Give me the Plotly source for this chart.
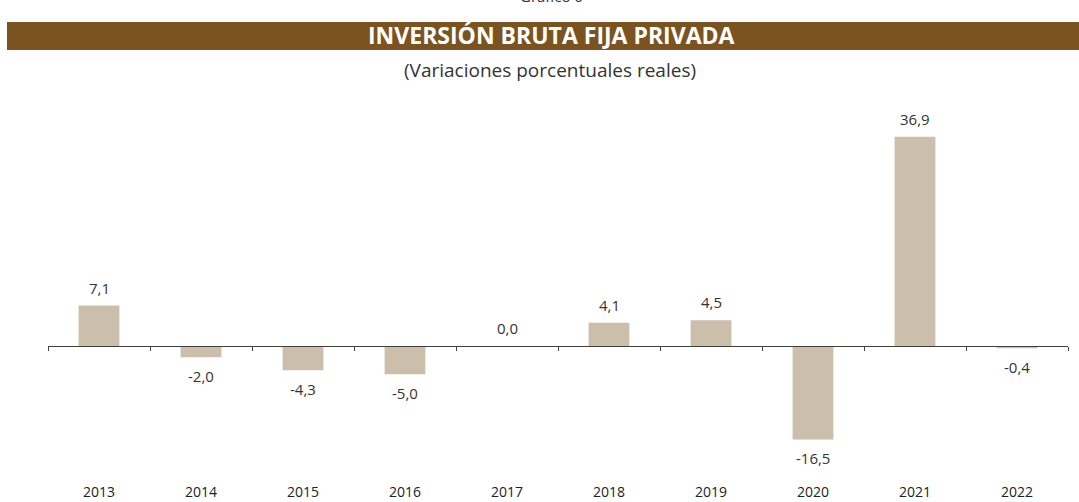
import plotly.graph_objects as go

years = ["2013", "2014", "2015", "2016", "2017", "2018", "2019", "2020", "2021", "2022"]
values = [7.1, -2.0, -4.3, -5.0, 0.0, 4.1, 4.5, -16.5, 36.9, -0.4]
labels = [f"{v:.1f}".replace(".", ",") for v in values]

YMIN, YMAX = -23.3, 41.6
zero_pos = (0 - YMIN) / (YMAX - YMIN)

fig = go.Figure()
fig.add_trace(go.Bar(
    x=years, y=values,
    marker=dict(color="#CBBEAA", line=dict(width=0)),
    width=0.4, xaxis="x2", yaxis="y", hoverinfo="skip",
))
fig.add_trace(go.Bar(
    x=years, y=[None] * len(years), xaxis="x", yaxis="y", showlegend=False, hoverinfo="skip",
))

# category axes place annotations by category index
annotations = [
    dict(x=i, y=v, xref="x2", yref="y", text=lab, showarrow=False,
         yanchor="middle", yshift=(18 if v >= 0 else -19),
         font=dict(family="Open Sans", size=15, color="#333333"))
    for i, (v, lab) in enumerate(zip(values, labels))
]
annotations += [
    dict(text="Gráfico 6", xref="paper", yref="paper", x=0.494, y=1.31,
         yanchor="middle", showarrow=False,
         font=dict(family="Open Sans", size=15, color="#333333")),
    dict(text="<b>INVERSIÓN BRUTA FIJA PRIVADA</b>", xref="paper", yref="paper",
         x=0.494, y=1.203, yanchor="middle", showarrow=False,
         font=dict(family="Open Sans", size=23, color="white")),
    dict(text="(Variaciones porcentuales reales)", xref="paper", yref="paper",
         x=0.492, y=1.1087, yanchor="middle", showarrow=False,
         font=dict(family="Open Sans", size=19, color="#333333")),
]

fig.update_layout(
    width=1079, height=502,
    margin=dict(l=48, r=11, t=110, b=24, autoexpand=False),
    paper_bgcolor="white", plot_bgcolor="white",
    showlegend=False,
    font=dict(family="Open Sans", color="#333333"),
    xaxis=dict(
        type="category", categoryorder="array", categoryarray=years,
        range=[-0.5, 9.5], anchor="free", position=zero_pos, automargin=False,
        overlaying="x2",
        showline=True, linecolor="#404040", linewidth=1,
        ticks="outside", tickson="boundaries", ticklen=4, tickcolor="#404040",
        showticklabels=False, showgrid=False, zeroline=False,
    ),
    xaxis2=dict(
        type="category", categoryorder="array", categoryarray=years,
        range=[-0.5, 9.5], side="bottom", anchor="y", automargin=False,
        showline=False, ticks="", showgrid=False, zeroline=False,
        ticklabelstandoff=4,
        tickfont=dict(family="Open Sans", size=14, color="#222222"),
    ),
    yaxis=dict(range=[YMIN, YMAX], visible=False, showgrid=False, zeroline=False,
               automargin=False, anchor="x2"),
    shapes=[dict(
        type="rect", xref="paper", yref="paper",
        x0=-0.0402, x1=1.02, y0=1.1630, y1=1.2391,
        fillcolor="#7A5321", line=dict(width=0), layer="below",
    )],
    annotations=annotations,
)

fig.write_html("out.html", config={"displayModeBar": False},
               post_script="document.body.style.margin='0';")
